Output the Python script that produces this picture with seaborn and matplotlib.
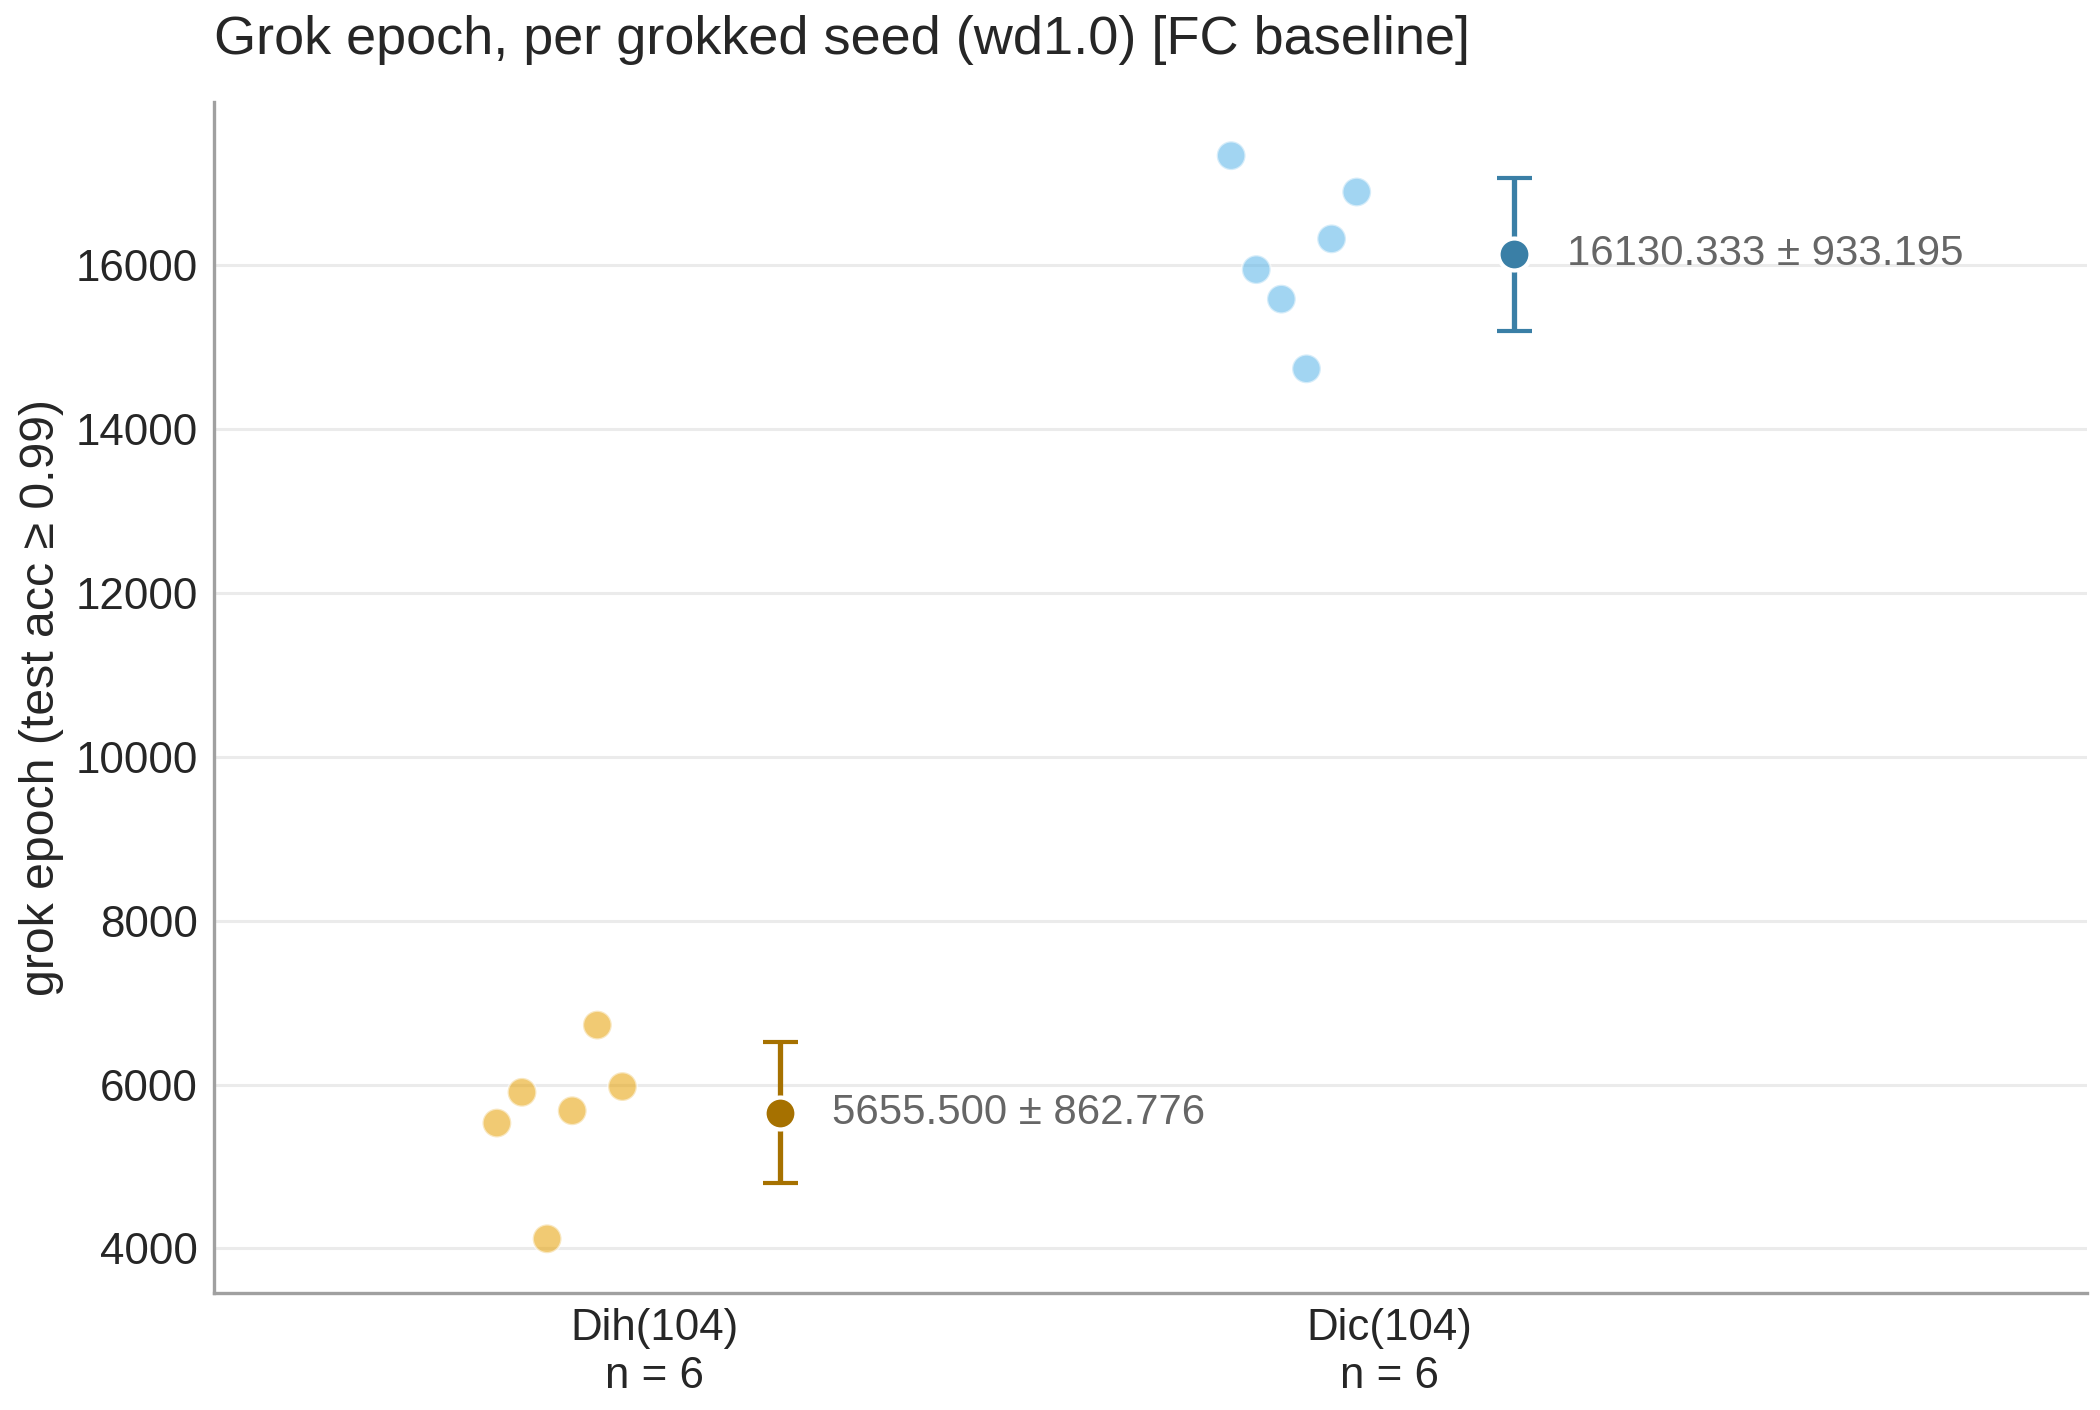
import numpy as np
import pandas as pd
import matplotlib
matplotlib.use("Agg")
import matplotlib.pyplot as plt
import seaborn as sns

# values
groups = ["Dih(104)", "Dic(104)"]
n_seeds = [6, 6]
dih_epochs = [5530, 5905, 4118, 5680, 6725, 5975]
dic_epochs = [17330, 15940, 15580, 14730, 16315, 16887]
means = [5655.500, 16130.333]
sds = [862.776, 933.195]

point_colors = ["#E69F00", "#56B4E9"]
mean_colors = ["#A67100", "#3A7FA6"]

sns.set_theme(style="white")
plt.rcParams["font.family"] = ["Liberation Sans", "DejaVu Sans"]
plt.rcParams["text.color"] = "#262626"
plt.rcParams["axes.labelcolor"] = "#262626"
plt.rcParams["xtick.color"] = "#262626"
plt.rcParams["ytick.color"] = "#262626"

# long table for the strip of seeds
offsets = np.linspace(-0.215, -0.044, 6)
rows = []
for gi, (g, vals) in enumerate(zip(groups, [dih_epochs, dic_epochs])):
    for k, v in enumerate(vals):
        rows.append({"group": g, "epoch": v, "xpos": gi + offsets[k]})
df = pd.DataFrame(rows)

fig = plt.figure(figsize=(10.5, 7.05), dpi=200)
ax = fig.add_axes([0.102, 0.083, 0.8916, 0.845])

sns.scatterplot(data=df, x="xpos", y="epoch", hue="group",
                palette=dict(zip(groups, point_colors)), s=108, alpha=0.55,
                edgecolor="white", linewidth=0.9, legend=False, ax=ax, zorder=3)

for gi in range(len(groups)):
    xm = gi + 0.17
    ax.errorbar(xm, means[gi], yerr=sds[gi], fmt="o", color=mean_colors[gi],
                ecolor=mean_colors[gi], elinewidth=1.9, capsize=6.3, capthick=1.9,
                markersize=11.5, markeredgecolor="white", markeredgewidth=1.5, zorder=4)
    ax.text(gi + 0.242, means[gi], f"{means[gi]:.3f} \u00b1 {sds[gi]:.3f}",
            color="#666666", fontsize=15.1, va="center", ha="left")

ax.set_xlim(-0.6, 1.95)
ax.set_xticks(range(len(groups)))
ax.set_xticklabels([f"{g}\nn = {n}" for g, n in zip(groups, n_seeds)], fontsize=15.8)
ax.set_yticks([4000, 6000, 8000, 10000, 12000, 14000, 16000])
ax.tick_params(axis="y", labelsize=15.8, length=0, pad=6)
ax.tick_params(axis="x", length=0, pad=5.5)
ax.yaxis.grid(True, color="#EBEBEB", linewidth=1.1, zorder=0)
ax.set_axisbelow(True)

ax.set_xlabel("")
ax.set_ylabel("grok epoch (test acc \u2265 0.99)", fontsize=17.4, labelpad=4)
ax.set_title("Grok epoch, per grokked seed (wd1.0) [FC baseline]", loc="left",
             fontsize=19.5, pad=17)

for side in ["top", "right"]:
    ax.spines[side].set_visible(False)
for side in ["left", "bottom"]:
    ax.spines[side].set_color("#A0A0A0")
    ax.spines[side].set_linewidth(1.2)

fig.savefig("out.png", dpi=200)
